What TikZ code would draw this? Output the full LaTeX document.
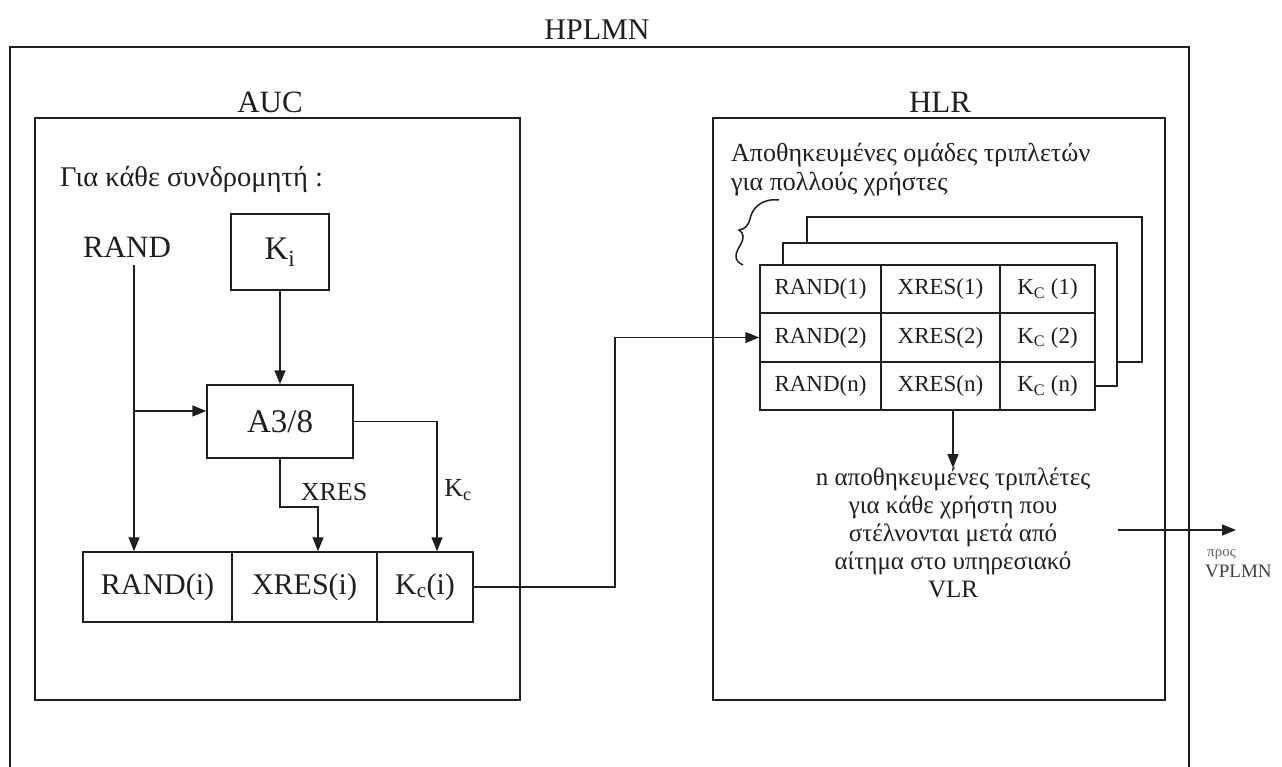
\documentclass[tikz,border=0pt]{standalone}
\usepackage{fontspec}
\setmainfont{Liberation Serif}
\usetikzlibrary{arrows.meta,calc}

\newcommand{\fs}[1]{\fontsize{#1}{#1}\selectfont}

\tikzset{
  ln/.style={line width=1.5pt, draw=black!88},
  arr/.style={ln, -{Triangle[length=14pt,width=11pt]}},
  box/.style={ln, inner sep=0pt, text=black!88},
  lbl/.style={inner sep=0pt, text=black!88},
}

\begin{document}
\begin{tikzpicture}[x=1pt,y=-1pt]
\useasboundingbox (0,0) rectangle (1282,767);
\fill[white] (0,0) rectangle (1282,767);
\clip (0,0) rectangle (1282,767);

% home network frame (runs off the lower edge)
\draw[ln] (10,800) -- (10,47) -- (1189,47) -- (1189,800);
\draw[ln, line width=2.2pt] (10,47) -- (1189,47);
\node[lbl, font=\fs{30}] (hplmn) at (597,30) {HPLMN};

% authentication centre
\node[lbl, font=\fs{31}] (auclbl) at (270,102) {AUC};
\node[box, minimum width=485pt, minimum height=582pt] (auc) at (277.5,409) {};
\node[lbl, font=\fs{28.5}, anchor=west] (sub) at (60,180) {Για κάθε συνδρομητή :};

\node[lbl, font=\fs{31}] (rand) at (127,247) {RAND};
\node[box, font=\fs{33}, minimum width=98pt, minimum height=76pt] (ki) at (280,252) {K\textsubscript{i}};
\node[box, font=\fs{33}, minimum width=146pt, minimum height=73pt] (a38) at (280,421.5) {A3/8};

% output triplet of the AUC
\node[box, font=\fs{30}, minimum width=149pt, minimum height=70pt] (randi) at (157.5,587) {RAND(i)};
\node[box, font=\fs{30}, minimum width=145pt, minimum height=70pt] (xresi) at (304.5,587) {XRES(i)};
\node[box, font=\fs{30}, minimum width=96pt, minimum height=70pt] (kci) at (425,587) {K\textsubscript{c}(i)};

\coordinate (rtop) at (134,265);
\coordinate (rjoin) at (134,411);
\draw[arr] (rtop) -- (rtop |- randi.north);
\draw[arr] (rjoin) -- (rjoin -| a38.west);
\draw[arr] (ki) -- (a38);
\coordinate (xbend) at (280,507);
\coordinate (xdrop) at (318,507);
\draw[arr] (a38.south) -- (xbend) -- (xdrop) -- (xdrop |- xresi.north);
\coordinate (kdrop) at (437,421.5);
\draw[arr] (a38.east) -- (kdrop) -- (kdrop |- kci.north);
\node[lbl, font=\fs{26}] (xreslbl) at (334,492) {XRES};
\node[lbl, font=\fs{26}] (kclbl) at (458,490) {K\textsubscript{c}};

% home location register
\node[lbl, font=\fs{31}] (hlrlbl) at (940,102) {HLR};
\node[box, minimum width=452pt, minimum height=582pt] (hlr) at (939,409) {};
\node[lbl, font=\fs{26}, anchor=west, align=left] (store) at (731,170)
  {Αποθηκευμένες ομάδες τριπλετών\\[3pt]για πολλούς χρήστες};

% stacked sheets behind the triplet table
\draw[ln] (783,265) -- (783,243) -- (1117,243) -- (1117,386) -- (1095,386);
\draw[ln] (807,243) -- (807,217) -- (1142,217) -- (1142,362) -- (1117,362);

% brace over the stack
\draw[ln, line width=1.5pt] (779,200) .. controls (762,198) and (752,208) .. (750,219)
  .. controls (748,226) and (745,229) .. (739,230)
  .. controls (744,233) and (744,238) .. (741,244)
  .. controls (736,252) and (732,260) .. (743,265);

% triplet table
\tikzset{tc/.style={box, font=\fs{23}, minimum height=48pt}}
\node[tc, minimum width=121pt] (t11) at (820.5,289) {RAND(1)};
\node[tc, minimum width=119pt] (t12) at (940.5,289) {XRES(1)};
\node[tc, minimum width=95pt]  (t13) at (1047.5,289) {K\textsubscript{C} (1)};
\node[tc, minimum width=121pt] (t21) at (820.5,337.5) {RAND(2)};
\node[tc, minimum width=119pt] (t22) at (940.5,337.5) {XRES(2)};
\node[tc, minimum width=95pt]  (t23) at (1047.5,337.5) {K\textsubscript{C} (2)};
\node[tc, minimum width=121pt] (t31) at (820.5,386) {RAND(n)};
\node[tc, minimum width=119pt] (t32) at (940.5,386) {XRES(n)};
\node[tc, minimum width=95pt]  (t33) at (1047.5,386) {K\textsubscript{C} (n)};

% AUC to HLR
\coordinate (up) at (615,587);
\draw[arr] (kci.east) -- (up) -- (up |- t21.west) -- (t21.west);

% triplets handed to the visited network
\coordinate (dn) at (953,410);
\node[lbl, font=\fs{25}, align=center, anchor=north] (sent) at (953,468)
  {n αποθηκευμένες τριπλέτες\\[3pt]για κάθε χρήστη που\\[3pt]στέλνονται μετά από\\[3pt]αίτημα στο υπηρεσιακό\\[3pt]VLR};
\draw[arr] (dn) -- (dn |- sent.north);

\coordinate (out) at (1118,530);
\coordinate (outtip) at (1236,530);
\draw[arr] (out) -- (outtip);
\node[lbl, font=\fs{15}, text=black!60, anchor=south west] (pros) at (1207,560) {προς};
\node[lbl, font=\fs{19}, text=black!75, anchor=north west] (vplmn) at (1205,565) {VPLMN};
\end{tikzpicture}
\end{document}
